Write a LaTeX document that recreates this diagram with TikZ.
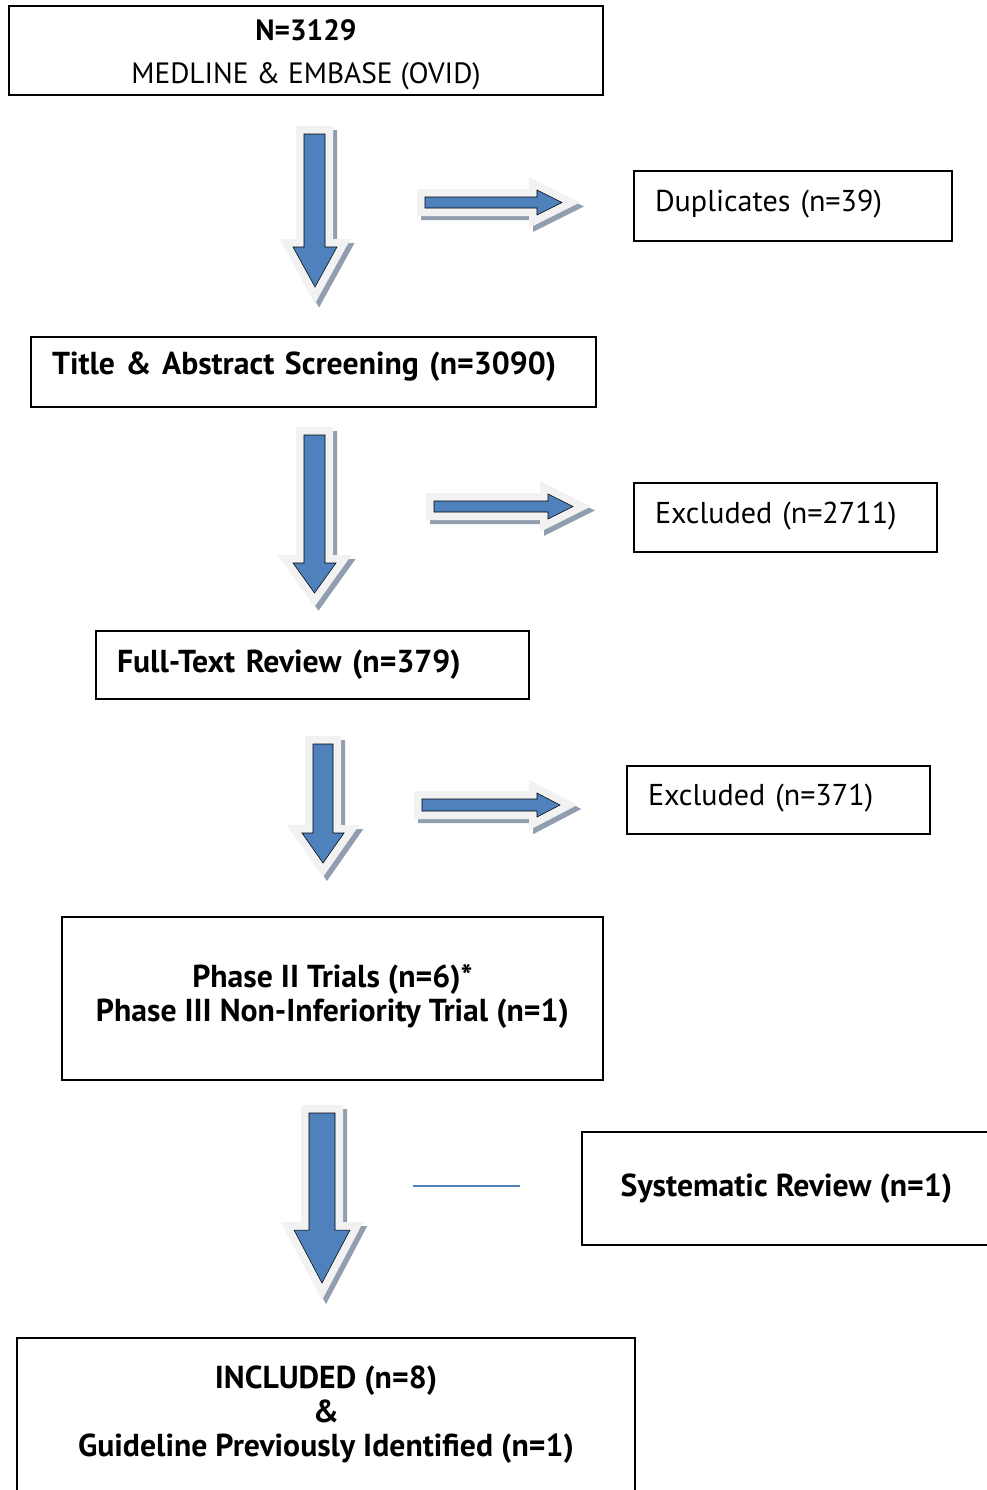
\documentclass[tikz,border=0pt]{standalone}
\usepackage{fontspec}
\setmainfont{PT Sans}
\usetikzlibrary{shadows}
\definecolor{arrowblue}{RGB}{79,129,189}
\definecolor{arrowrim}{RGB}{242,242,242}
\definecolor{arrowshade}{RGB}{145,158,175}
\tikzset{
  box/.style={draw, line width=1.5pt, inner ysep=0pt, align=center,
    font=\fontsize{22.6}{25.5}\selectfont},
  boldbox/.style={box, font=\fontsize{23.8}{25.5}\selectfont\bfseries},
  leftbox/.style={box, align=left, inner xsep=15.75pt, text height=18pt},
  fatarrow/.style={fill=arrowblue,
    general shadow={shadow xshift=3pt, shadow yshift=-3pt, fill=arrowshade,
      draw=arrowshade, line width=12pt},
    preaction={draw=arrowrim, line width=12pt}},
}
\begin{document}
\begin{tikzpicture}[x=0.75pt,y=-0.75pt]
\useasboundingbox (0,0) rectangle (987,1490);
% boxes
\node[box, font=\fontsize{22}{32}\selectfont, text height=53.9pt, text depth=5pt,
  minimum width=445.5pt, minimum height=66.75pt] (src) at (306,50.5)
  {\textbf{N=3129}\\MEDLINE \& EMBASE (OVID)};
\node[leftbox, text depth=9.68pt, text width=207pt, minimum height=52.5pt] (dup) at (793,206)
  {Duplicates (n=39)};
\node[leftbox, boldbox, align=left, text depth=14.84pt, text width=392.25pt, minimum height=52.5pt] (screen) at (313.5,372)
  {Title \& Abstract Screening (n=3090)};
\node[leftbox, text depth=8.93pt, text width=195.75pt, minimum height=51.75pt] (excl1) at (785.5,517.5)
  {Excluded (n=2711)};
\node[leftbox, boldbox, align=left, text depth=7.34pt, text width=293.25pt, minimum height=51pt] (fulltext) at (312.5,665)
  {Full-Text Review (n=379)};
\node[leftbox, text depth=9.68pt, text width=195.75pt, minimum height=51pt] (excl2) at (778.5,800)
  {Excluded (n=371)};
\node[boldbox, text height=38.91pt, text depth=5pt,
  minimum width=405.75pt, minimum height=122.25pt] (trials) at (332.5,998.5)
  {Phase II Trials (n=6)*\\Phase III Non-Inferiority Trial (n=1)};
\node[boldbox, text height=18pt, text depth=6.59pt,
  minimum width=306.75pt, minimum height=84.75pt] (sysrev) at (786.5,1188.5)
  {Systematic Review (n=1)};
\node[boldbox, text height=65.16pt, text depth=5pt,
  minimum width=463.5pt, minimum height=117pt] (incl) at (326,1416)
  {INCLUDED (n=8)\\\&\\Guideline Previously Identified (n=1)};
% down arrows
\draw[fatarrow] (304,134) -- (325,134) -- (325,247) -- (337,247) -- (315,287) -- (293,247) -- (304,247) -- cycle;
\draw[fatarrow] (304,435) -- (325,435) -- (325,563) -- (336,563) -- (314.5,593) -- (293,563) -- (304,563) -- cycle;
\draw[fatarrow] (313,744) -- (333,744) -- (333,833) -- (344,833) -- (323,863) -- (302,833) -- (313,833) -- cycle;
\draw[fatarrow] (309,1113) -- (335,1113) -- (335,1230) -- (350,1230) -- (322,1283) -- (294,1230) -- (309,1230) -- cycle;
% right arrows
\draw[fatarrow] (425,197) -- (537,197) -- (537,190) -- (562,202.5) -- (537,215) -- (537,208) -- (425,208) -- cycle;
\draw[fatarrow] (434,501) -- (548,501) -- (548,494) -- (573,506.5) -- (548,519) -- (548,512) -- (434,512) -- cycle;
\draw[fatarrow] (422,799) -- (537,799) -- (537,793) -- (560,805) -- (537,817) -- (537,811) -- (422,811) -- cycle;
% line to systematic review
\coordinate (s1) at (413,1186);
\coordinate (s2) at (520,1186);
\draw[arrowblue, line width=1.5pt] (s1) -- (s2);
\end{tikzpicture}
\end{document}
